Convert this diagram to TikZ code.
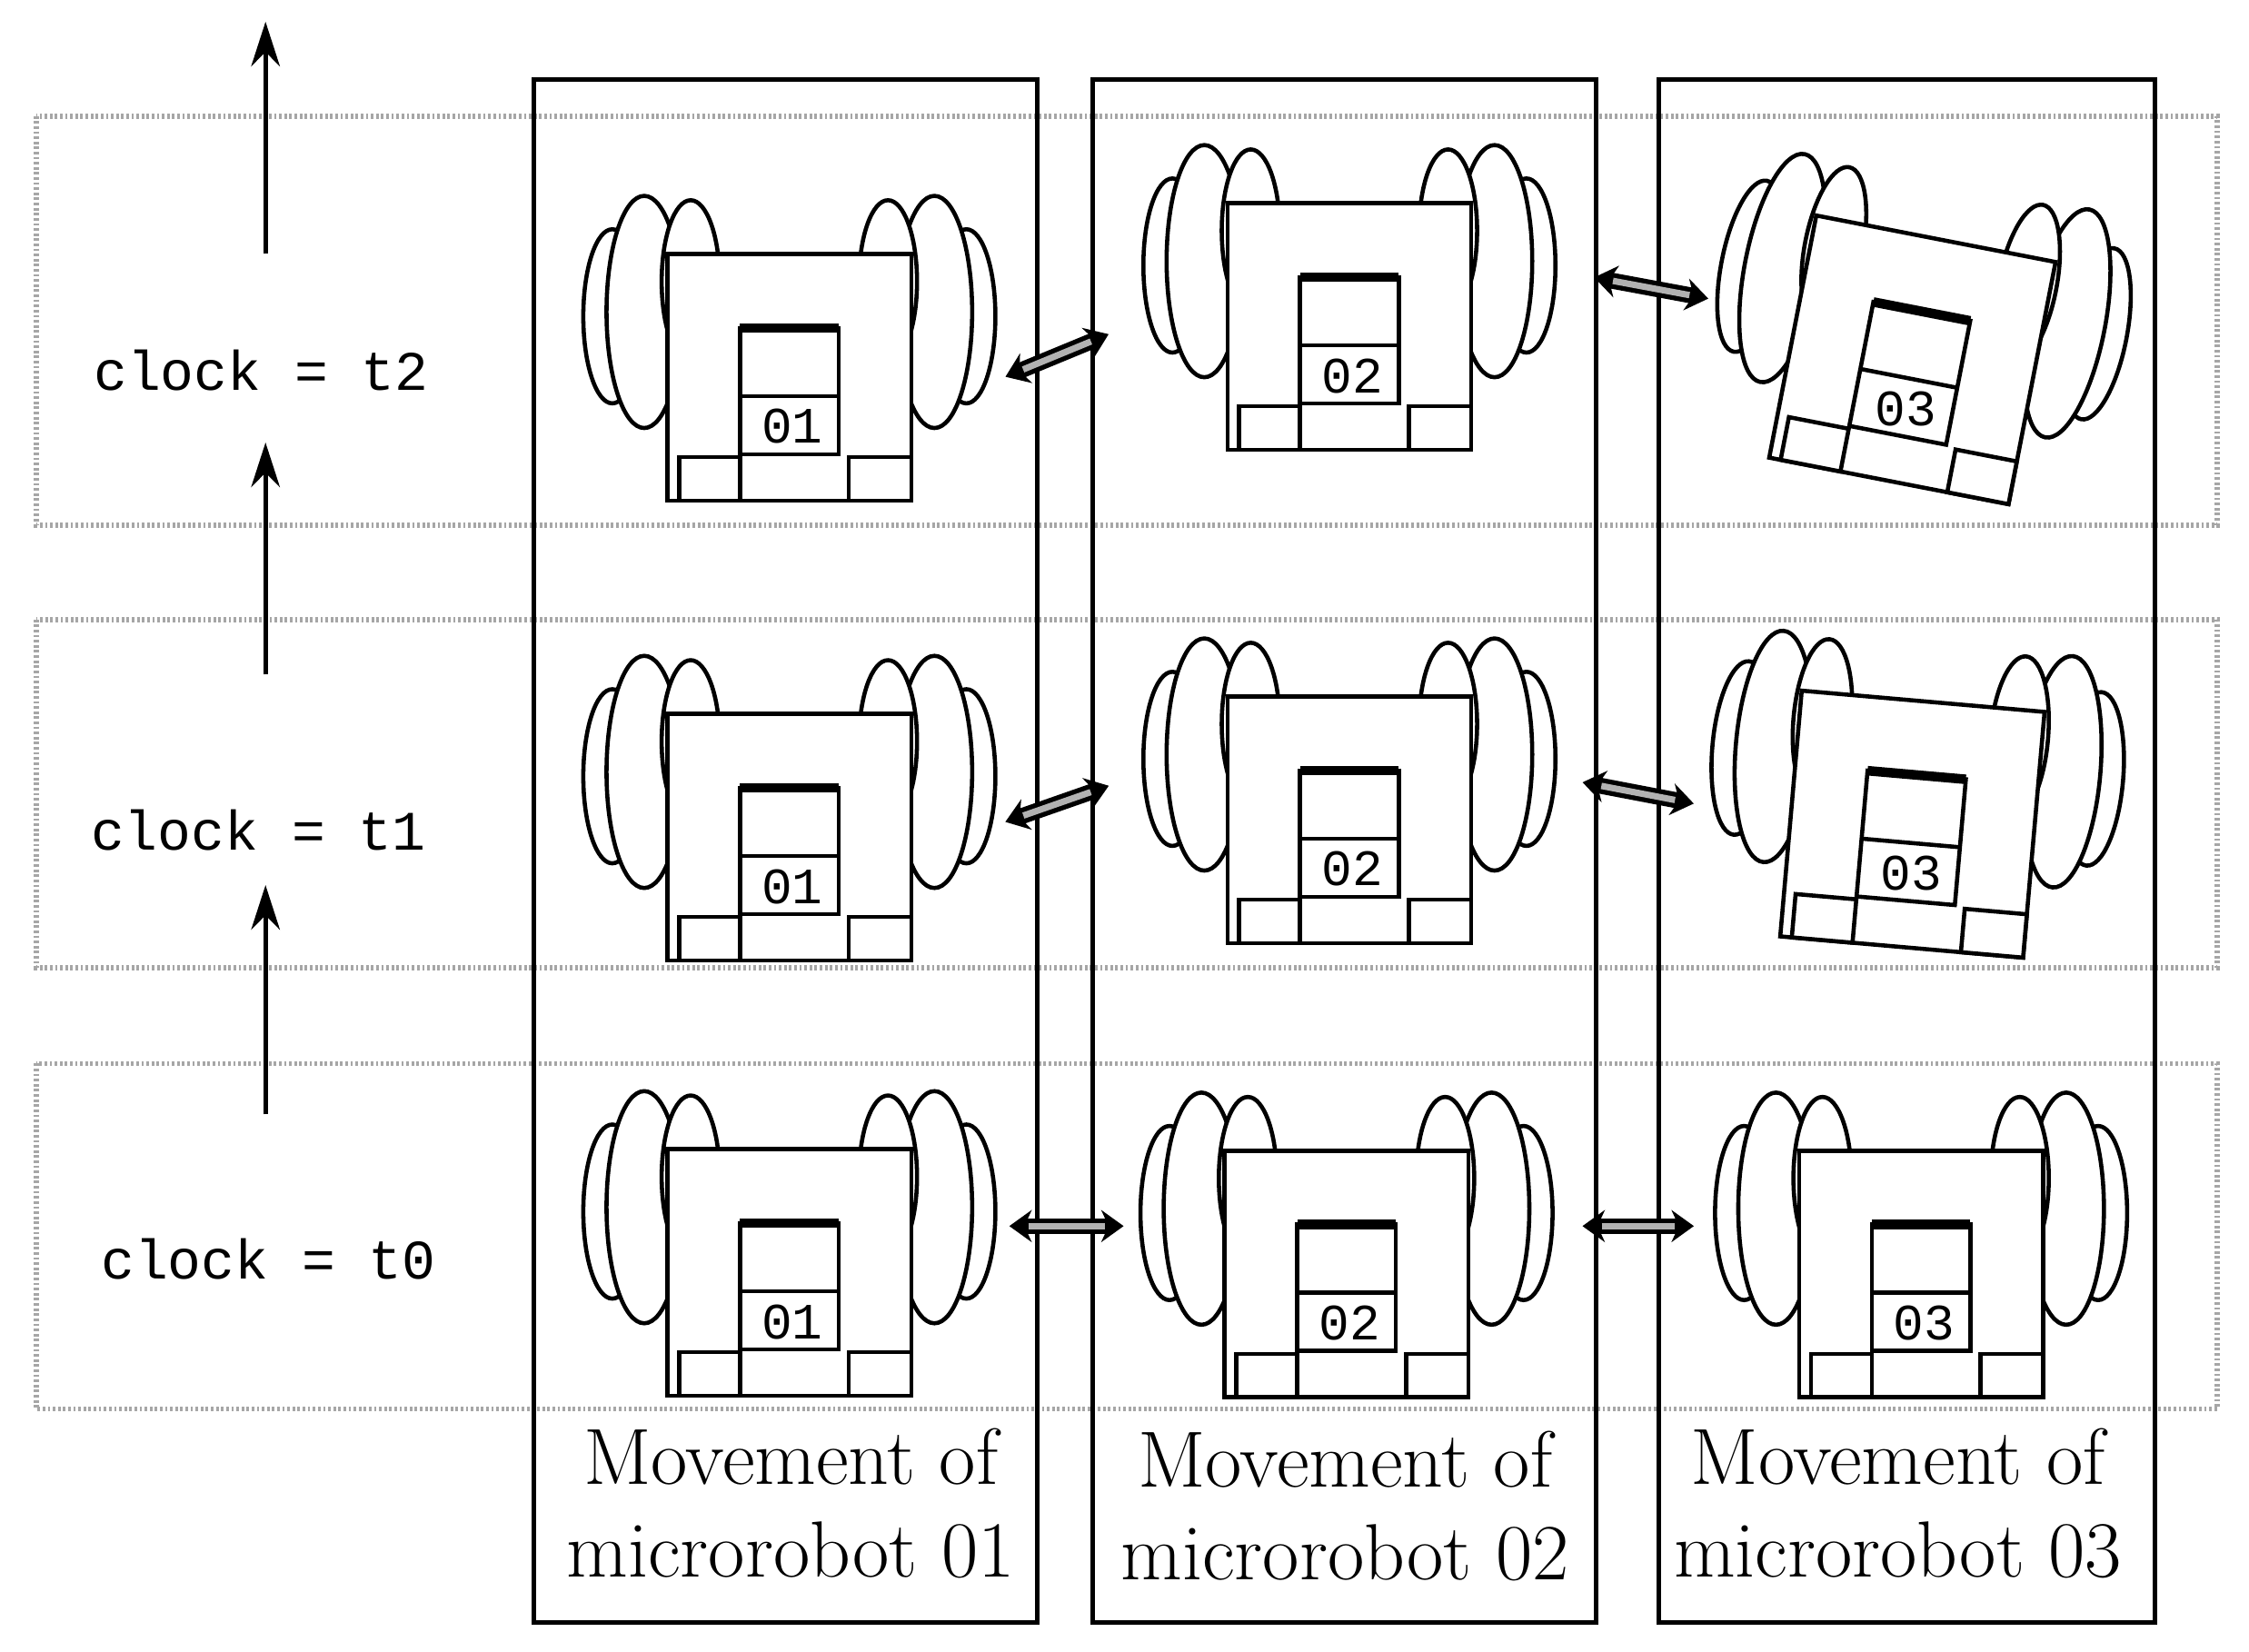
\documentclass[tikz,border=0pt]{standalone}
\usepackage{fontspec}
\setmainfont{Latin Modern Roman}
\newfontfamily\monof{Liberation Mono}
\usetikzlibrary{arrows.meta}
\begin{document}
\begin{tikzpicture}[x=0.016cm,y=-0.016cm,
 rl/.style={line width=1.3pt},
 row/.style={draw=gray!70,line width=1.6pt,dash pattern=on 0.8pt off 0.8pt},
 col/.style={draw=black,line width=1.4pt},
 clk/.style={font=\monof\fontsize{17.5}{20}\selectfont},
 captxt/.style={font=\fontsize{25}{29}\selectfont,align=center},
 up/.style={line width=1.4pt,-{Stealth[length=14pt,width=9pt]}},
 dbl/.style={line width=5pt,{Stealth[length=7pt,width=10pt]}-{Stealth[length=7pt,width=10pt]},shorten <=-2pt,shorten >=-2pt},
 dbli/.style={line width=2pt,draw=gray!60,shorten <=4pt,shorten >=4pt},
 pics/robot/.style={code={
  \foreach \s in {-1,1}{
   \draw[rl,fill=white] (\s*122,-42) ellipse [x radius=20,y radius=60];
   \draw[rl,fill=white] (\s*100,-45) ellipse [x radius=26,y radius=80];
   \draw[rl,fill=white] (\s*68,-66) ellipse [x radius=20,y radius=56];
  }
  \draw[rl,fill=white] (-84,-85) rectangle (84,85);
  \draw[rl,fill=white] (-34,-34) rectangle (34,53);
  \draw[line width=3pt] (-34,-34) -- (34,-34);
  \draw[rl] (-34,13) -- (34,13);
  \node[font=\monof\fontsize{16}{18}\selectfont] at (2,34) {#1};
  \draw[rl,fill=white] (-76,55) rectangle (-34,85);
  \draw[rl,fill=white] (41,55) rectangle (84,85);
 }}]
\useasboundingbox (0,0) rectangle (1550,1138);
% rows
\draw[row] (25,80) rectangle (1528,362);
\draw[row] (25,427) rectangle (1528,667);
\draw[row] (25,733) rectangle (1528,971);
% columns
\draw[col] (368,55) rectangle (715,1118);
\draw[col] (753,55) rectangle (1100,1118);
\draw[col] (1143,55) rectangle (1485,1118);
% clocks
\node[clk] (c2) at (180,255) {clock = t2};
\node[clk] (c1) at (178,572) {clock = t1};
\node[clk] (c0) at (185,868) {clock = t0};
\coordinate (a0s) at (183,768); \coordinate (a0e) at (183,610);
\coordinate (a1s) at (183,465); \coordinate (a1e) at (183,305);
\coordinate (a2s) at (183,175); \coordinate (a2e) at (183,15);
\draw[up] (a0s) -- (a0e);
\draw[up] (a1s) -- (a1e);
\draw[up] (a2s) -- (a2e);
% robots
\pic (r10) at (544,877) {robot=01};
\pic (r11) at (544,577) {robot=01};
\pic (r12) at (544,260) {robot=01};
\pic (r20) at (928,878) {robot=02};
\pic (r21) at (930,565) {robot=02};
\pic (r22) at (930,225) {robot=02};
\pic (r30) at (1324,878) {robot=03};
\pic[rotate=-5] (r31) at (1318,568) {robot=03};
\pic[rotate=-11] (r32) at (1318,248) {robot=03};
% exchange arrows
\foreach \a/\b/\c/\d in {697/258/760/232, 697/565/760/543, 700/845/770/845,
  1103/192/1173/205, 1095/540/1163/553, 1095/845/1163/845}{
  \coordinate (p) at (\a,\b); \coordinate (q) at (\c,\d);
  \draw[dbl] (p) -- (q);
  \draw[dbli] (p) -- (q);
}
% captions
\node[captxt] (t1) at (545,1036) {Movement of\\microrobot 01};
\node[captxt] (t2) at (927,1038) {Movement of\\microrobot 02};
\node[captxt] (t3) at (1308,1036) {Movement of\\microrobot 03};
\end{tikzpicture}
\end{document}
